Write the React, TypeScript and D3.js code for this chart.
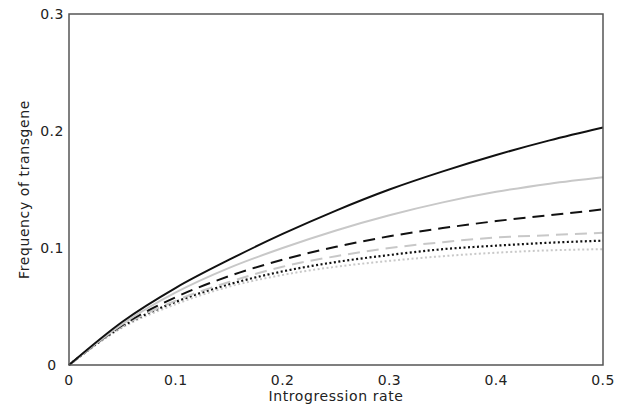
import React from "react";
import * as d3 from "d3";

// introgression rate sample points
const rates = [0, 0.05, 0.1, 0.15, 0.2, 0.25, 0.3, 0.35, 0.4, 0.45, 0.5];

// frequency of transgene
const blackSolid = [0, 0.037, 0.066, 0.09, 0.112, 0.132, 0.15, 0.1655, 0.1795, 0.192, 0.203];
const graySolid = [0, 0.035, 0.062, 0.083, 0.1, 0.115, 0.128, 0.139, 0.148, 0.155, 0.1605];
const blackDashed = [0, 0.034, 0.058, 0.076, 0.09, 0.101, 0.11, 0.117, 0.123, 0.128, 0.133];
const grayDashed = [0, 0.033, 0.055, 0.071, 0.084, 0.093, 0.1, 0.105, 0.109, 0.111, 0.113];
const blackDotted = [0, 0.033, 0.054, 0.069, 0.08, 0.088, 0.094, 0.099, 0.102, 0.1045, 0.1063];
const grayDotted = [0, 0.032, 0.052, 0.067, 0.077, 0.084, 0.089, 0.093, 0.096, 0.098, 0.099];

const xTicks = [0, 0.1, 0.2, 0.3, 0.4, 0.5];
const yTicks = [0, 0.1, 0.2, 0.3];

const W = 627;
const H = 409;
const margin = { top: 14, right: 24, bottom: 44, left: 69 };

const series = [
  { values: grayDotted, color: "#c8c8c8", width: 2, dash: "2,2.5" },
  { values: blackDotted, color: "#111", width: 2.2, dash: "2,2.5" },
  { values: grayDashed, color: "#c8c8c8", width: 2, dash: "12,7" },
  { values: blackDashed, color: "#111", width: 2, dash: "12,7" },
  { values: graySolid, color: "#c8c8c8", width: 2, dash: null },
  { values: blackSolid, color: "#111", width: 2, dash: null },
];

export default function App() {
  const x = d3.scaleLinear().domain([0, 0.5]).range([margin.left, W - margin.right]);
  const y = d3.scaleLinear().domain([0, 0.3]).range([H - margin.bottom, margin.top]);

  const line = d3
    .line<number>()
    .x((_, i) => x(rates[i]))
    .y((d) => y(d))
    .curve(d3.curveMonotoneX);

  const font = "'DejaVu Sans', Verdana, sans-serif";

  return (
    <svg
      width={W}
      height={H}
      style={{ position: "absolute", left: 0, top: 0 }}
      fontFamily={font}
    >
      <rect x={0} y={0} width={W} height={H} fill="#fff" />
      {series.map((s, i) => (
        <path
          key={i}
          d={line(s.values) || ""}
          fill="none"
          stroke={s.color}
          strokeWidth={s.width}
          strokeDasharray={s.dash || undefined}
        />
      ))}
      <rect
        x={x(0)}
        y={y(0.3)}
        width={x(0.5) - x(0)}
        height={y(0) - y(0.3)}
        fill="none"
        stroke="#555"
        strokeWidth={1.5}
      />
      {xTicks.map((t) => (
        <text key={t} x={x(t)} y={385} textAnchor="middle" fontSize={14} letterSpacing={0.4} fill="#222">
          {t === 0 ? "0" : t.toString()}
        </text>
      ))}
      {yTicks.map((t) => (
        <text key={t} x={52} y={y(t) + 5} textAnchor="middle" fontSize={14} letterSpacing={0.4} fill="#222">
          {t === 0 ? "0" : t.toString()}
        </text>
      ))}
      <text
        x={(x(0) + x(0.5)) / 2}
        y={401}
        textAnchor="middle"
        fontSize={14}
        letterSpacing={0.6}
        fill="#222"
      >
        Introgression rate
      </text>
      <text
        transform={`translate(29,${(y(0) + y(0.3)) / 2}) rotate(-90)`}
        textAnchor="middle"
        fontSize={14}
        letterSpacing={0.6}
        fill="#222"
      >
        Frequency of transgene
      </text>
    </svg>
  );
}
